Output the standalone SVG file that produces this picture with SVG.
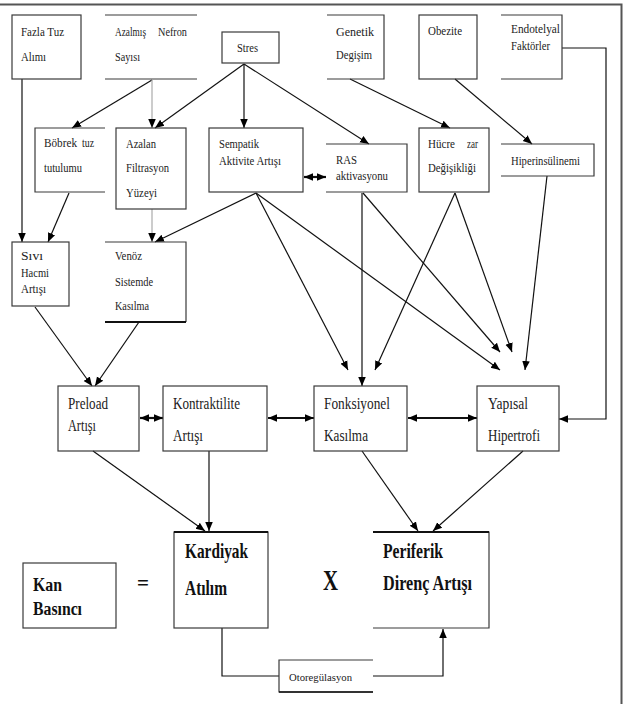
<svg xmlns="http://www.w3.org/2000/svg" width="623" height="704" viewBox="0 0 623 704">
<style>
.bx{fill:none;stroke:#3a3a3a;stroke-width:1.2}
.t{font-family:"Liberation Serif","Times New Roman",serif;font-size:13px;fill:#222}
.m{font-family:"Liberation Serif","Times New Roman",serif;font-size:17px;fill:#222}
.b{font-family:"Liberation Serif","Times New Roman",serif;font-size:21px;font-weight:bold;fill:#111}
.s{font-family:"Liberation Serif","Times New Roman",serif;font-size:11px;fill:#222}
.c{fill:none;stroke:#111;stroke-width:1.2}
.g{fill:none;stroke:#aaa;stroke-width:1.2}
.d{fill:none;stroke:#111;stroke-width:2.2}
</style>
<defs>
<marker id="ah" viewBox="0 0 10 10" refX="10" refY="5" markerWidth="9" markerHeight="9" markerUnits="userSpaceOnUse" orient="auto"><path d="M0,0.8 L10,5 L0,9.2 z" fill="#000"/></marker>
<marker id="ad" viewBox="0 0 10 10" refX="10" refY="5" markerWidth="9" markerHeight="9" markerUnits="userSpaceOnUse" orient="auto-start-reverse"><path d="M0,0.8 L10,5 L0,9.2 z" fill="#000"/></marker>
</defs>
<rect width="623" height="704" fill="#fff"/>
<path d="M0,4.5 H621.5 V704" fill="none" stroke="#555" stroke-width="2"/>

<g id="connectors">
<path class="c" d="M22,79 V242" marker-end="url(#ah)"/>
<path class="c" d="M152,80 L72,128" marker-end="url(#ah)"/>
<path class="g" d="M152,80 V128" marker-end="url(#ah)"/>
<path class="c" d="M244,64 L155,128" marker-end="url(#ah)"/>
<path class="c" d="M244,64 V128" marker-end="url(#ah)"/>
<path class="c" d="M244,64 L369,144" marker-end="url(#ah)"/>
<path class="c" d="M350,79 L450,128" marker-end="url(#ah)"/>
<path class="c" d="M455,79 L532,144" marker-end="url(#ah)"/>
<path class="c" d="M69,193 L48,242" marker-end="url(#ah)"/>
<path class="g" d="M152,209 V242" marker-end="url(#ah)"/>
<path class="c" d="M256,193 L155,242" marker-end="url(#ah)"/>
<path class="d" d="M304,177 H326" marker-start="url(#ad)" marker-end="url(#ad)"/>
<path class="c" d="M256,193 L348,370" marker-end="url(#ah)"/>
<path class="c" d="M256,193 L500,370" marker-end="url(#ah)"/>
<path class="c" d="M362,193 V386" marker-end="url(#ah)"/>
<path class="c" d="M363,193 L500,352" marker-end="url(#ah)"/>
<path class="c" d="M455,193 L375,370" marker-end="url(#ah)"/>
<path class="c" d="M455,193 L512,352" marker-end="url(#ah)"/>
<path class="c" d="M547,176 L525,370" marker-end="url(#ah)"/>
<path class="c" d="M562,48 H606 V419 H559" stroke="#444" marker-end="url(#ah)"/>
<path class="c" d="M35,307 L92,386" marker-end="url(#ah)"/>
<path class="c" d="M139,322 L95,386" marker-end="url(#ah)"/>
<path class="d" d="M140,418 H163" marker-start="url(#ad)" marker-end="url(#ad)"/>
<path class="d" d="M268,418 H314" marker-start="url(#ad)" marker-end="url(#ad)"/>
<path class="d" d="M408,418 H477" marker-start="url(#ad)" marker-end="url(#ad)"/>
<path class="c" d="M93,451 L205,531" marker-end="url(#ah)"/>
<path class="c" d="M209,451 V531" marker-end="url(#ah)"/>
<path class="c" d="M362,451 L418,531" marker-end="url(#ah)"/>
<path class="c" d="M523,451 L433,531" marker-end="url(#ah)"/>
<path class="c" d="M222,628 V676 H279" stroke="#444"/>
<path class="c" d="M373,676 H443 V629" stroke="#444" marker-end="url(#ah)"/>
</g>

<g id="fazla-tuz">
<rect class="bx" x="12" y="15" width="69" height="64"/>
<text class="t" x="21" y="36" textLength="43" lengthAdjust="spacingAndGlyphs">Fazla Tuz</text>
<text class="t" x="21" y="61" textLength="25" lengthAdjust="spacingAndGlyphs">Alımı</text>
</g>
<g id="azalmis-nefron">
<path class="bx" d="M105,15 H197 M105,79 H197"/>
<text class="t" y="36"><tspan x="115" textLength="31" lengthAdjust="spacingAndGlyphs">Azalmış</tspan> <tspan x="158" textLength="29" lengthAdjust="spacingAndGlyphs">Nefron</tspan></text>
<text class="t" x="115" y="61" textLength="25" lengthAdjust="spacingAndGlyphs">Sayısı</text>
</g>
<g id="stres">
<rect class="bx" x="222" y="32" width="57" height="31"/>
<text class="t" x="237" y="52" textLength="21" lengthAdjust="spacingAndGlyphs">Stres</text>
</g>
<g id="genetik">
<path class="bx" d="M327,15 H384 V79 H327"/>
<text class="t" x="336" y="36" textLength="38" lengthAdjust="spacingAndGlyphs">Genetik</text>
<text class="t" x="336" y="59" textLength="36" lengthAdjust="spacingAndGlyphs">Degişim</text>
</g>
<g id="obezite">
<rect class="bx" x="419" y="15" width="58" height="64"/>
<text class="t" x="428" y="35" textLength="34" lengthAdjust="spacingAndGlyphs">Obezite</text>
</g>
<g id="endotelyal">
<path class="bx" d="M501,15 H562 V79 H501"/>
<text class="t" x="511" y="33" textLength="49" lengthAdjust="spacingAndGlyphs">Endotelyal</text>
<text class="t" x="511" y="50" textLength="39" lengthAdjust="spacingAndGlyphs">Faktörler</text>
</g>
<g id="bobrek">
<path class="bx" d="M105,128 H35 V192 H105"/>
<text class="t" y="147"><tspan x="44" textLength="33" lengthAdjust="spacingAndGlyphs">Böbrek</tspan> <tspan x="82" textLength="12" lengthAdjust="spacingAndGlyphs">tuz</tspan></text>
<text class="t" x="44" y="172" textLength="38" lengthAdjust="spacingAndGlyphs">tutulumu</text>
</g>
<g id="azalan-filtrasyon">
<rect class="bx" x="116" y="128" width="70" height="81"/>
<text class="t" x="126" y="148" textLength="30" lengthAdjust="spacingAndGlyphs">Azalan</text>
<text class="t" x="126" y="172" textLength="43" lengthAdjust="spacingAndGlyphs">Filtrasyon</text>
<text class="t" x="126" y="197" textLength="31" lengthAdjust="spacingAndGlyphs">Yüzeyi</text>
</g>
<g id="sempatik">
<rect class="bx" x="209" y="128" width="94" height="64"/>
<text class="t" x="219" y="148" textLength="40" lengthAdjust="spacingAndGlyphs">Sempatik</text>
<text class="t" x="219" y="165" textLength="62" lengthAdjust="spacingAndGlyphs">Aktivite Artışı</text>
</g>
<g id="ras">
<path class="bx" d="M326,144 H407 V192 H326"/>
<text class="t" x="336" y="164" textLength="21" lengthAdjust="spacingAndGlyphs">RAS</text>
<text class="t" x="336" y="180" textLength="52" lengthAdjust="spacingAndGlyphs">aktivasyonu</text>
</g>
<g id="hucre-zar">
<rect class="bx" x="419" y="128" width="70" height="64"/>
<text class="t" y="148"><tspan x="428" textLength="27" lengthAdjust="spacingAndGlyphs">Hücre</tspan> <tspan x="467" textLength="11" lengthAdjust="spacingAndGlyphs">zar</tspan></text>
<text class="t" x="428" y="172" textLength="48" lengthAdjust="spacingAndGlyphs">Değişikliği</text>
</g>
<g id="hiperinsulinemi">
<path class="bx" d="M501,144 H594 V176 H501"/>
<text class="t" x="511" y="165" textLength="69" lengthAdjust="spacingAndGlyphs">Hiperinsülinemi</text>
</g>
<g id="sivi-hacmi">
<rect class="bx" x="12" y="242" width="57" height="64"/>
<text class="t" x="21" y="260" textLength="22" lengthAdjust="spacingAndGlyphs">Sıvı</text>
<text class="t" x="21" y="277" textLength="28" lengthAdjust="spacingAndGlyphs">Hacmi</text>
<text class="t" x="21" y="293" textLength="25" lengthAdjust="spacingAndGlyphs">Artışı</text>
</g>
<g id="venoz">
<path class="bx" d="M105,242 H186 V322"/>
<path d="M105,322 H186" stroke="#111" stroke-width="2" fill="none"/>
<text class="t" x="115" y="260" textLength="27" lengthAdjust="spacingAndGlyphs">Venöz</text>
<text class="t" x="115" y="286" textLength="38" lengthAdjust="spacingAndGlyphs">Sistemde</text>
<text class="t" x="115" y="310" textLength="34" lengthAdjust="spacingAndGlyphs">Kasılma</text>
</g>
<g id="preload">
<rect class="bx" x="58" y="386" width="81" height="65"/>
<text class="m" x="68" y="409" textLength="40" lengthAdjust="spacingAndGlyphs">Preload</text>
<text class="m" x="68" y="431" textLength="28" lengthAdjust="spacingAndGlyphs">Artışı</text>
</g>
<g id="kontraktilite">
<rect class="bx" x="163" y="386" width="104" height="65"/>
<text class="m" x="173" y="409" textLength="67" lengthAdjust="spacingAndGlyphs">Kontraktilite</text>
<text class="m" x="173" y="441" textLength="30" lengthAdjust="spacingAndGlyphs">Artışı</text>
</g>
<g id="fonksiyonel">
<rect class="bx" x="314" y="386" width="93" height="65"/>
<text class="m" x="324" y="409" textLength="66" lengthAdjust="spacingAndGlyphs">Fonksiyonel</text>
<text class="m" x="324" y="441" textLength="44" lengthAdjust="spacingAndGlyphs">Kasılma</text>
</g>
<g id="yapisal">
<rect class="bx" x="477" y="386" width="82" height="65"/>
<text class="m" x="488" y="409" textLength="40" lengthAdjust="spacingAndGlyphs">Yapısal</text>
<text class="m" x="488" y="441" textLength="52" lengthAdjust="spacingAndGlyphs">Hipertrofi</text>
</g>
<g id="kan-basinci">
<rect class="bx" x="23" y="563" width="93" height="65"/>
<text class="b" style="font-size:18px" x="33" y="591" textLength="29" lengthAdjust="spacingAndGlyphs">Kan</text>
<text class="b" style="font-size:18px" x="33" y="615" textLength="49" lengthAdjust="spacingAndGlyphs">Basıncı</text>
</g>
<g id="esittir">
<text class="b" x="137" y="590" textLength="12" lengthAdjust="spacingAndGlyphs">=</text>
</g>
<g id="kardiyak">
<rect class="bx" x="174" y="532" width="94" height="96"/>
<path d="M174,532 H268" stroke="#111" stroke-width="1.8"/>
<text class="b" x="185" y="558" textLength="63" lengthAdjust="spacingAndGlyphs">Kardiyak</text>
<text class="b" x="185" y="595" textLength="42" lengthAdjust="spacingAndGlyphs">Atılım</text>
</g>
<g id="carpi">
<text class="b" style="font-size:30px" x="323" y="590" textLength="15" lengthAdjust="spacingAndGlyphs">X</text>
</g>
<g id="periferik">
<path class="bx" d="M373,532 H489 V628 H373"/>
<path d="M373,532 H489" stroke="#111" stroke-width="1.8"/>
<text class="b" x="383" y="558" textLength="60" lengthAdjust="spacingAndGlyphs">Periferik</text>
<text class="b" x="383" y="590" textLength="89" lengthAdjust="spacingAndGlyphs">Direnç Artışı</text>
</g>
<g id="otoregulasyon">
<path class="bx" d="M373,660 H279 V692 H373"/>
<path d="M279,692 H373" stroke="#111" stroke-width="1.5"/>
<text class="s" x="289" y="681" textLength="63" lengthAdjust="spacingAndGlyphs">Otoregülasyon</text>
</g>
</svg>
